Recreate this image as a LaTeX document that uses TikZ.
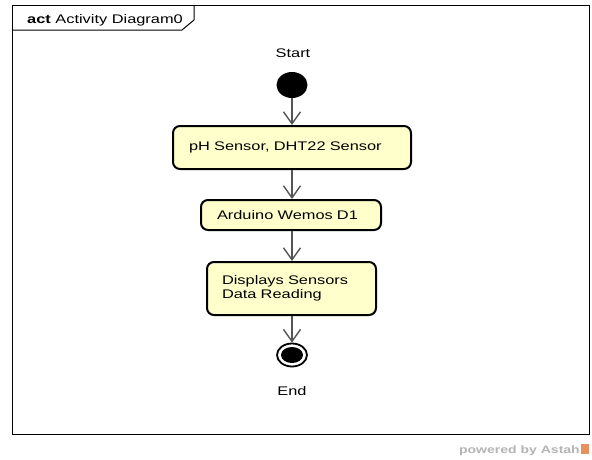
\documentclass[tikz,border=0pt]{standalone}
\usepackage{fontspec}
\setmainfont[FakeStretch=1.31]{Liberation Sans}
\usetikzlibrary{arrows.meta,shapes.geometric}
\definecolor{actfill}{HTML}{FFFFCC}
\definecolor{flowline}{HTML}{555555}
\definecolor{astahgrey}{HTML}{B4B4B4}
\definecolor{astahicon}{HTML}{E89060}
\tikzset{
  lbl/.style={font=\fontsize{12.5}{14.5}\selectfont, inner sep=0pt},
  actbox/.style={draw=black, line width=2pt, fill=actfill, rounded corners=7pt,
    font=\fontsize{12.5}{14.5}\selectfont, align=left, inner ysep=0pt, inner xsep=16pt},
  flow/.style={draw=flowline, line width=1.4pt, -{Straight Barb[length=12pt,width=17pt,line width=1.4pt]}},
  frameline/.style={draw=black, line width=1pt}
}
\begin{document}
\begin{tikzpicture}[x=1pt,y=-1pt]
\useasboundingbox (0,0) rectangle (592,459);
\fill[white] (0,0) rectangle (592,459);
% frame
\draw[frameline] (12,5) rectangle (589,434);
\draw[frameline] (12,30) -- (182,30) -- (194,20) -- (194,5);
\node[lbl, anchor=base west] (title) at (27,23) {\textbf{act} Activity Diagram0};
% start
\node[lbl] (startlbl) at (293,53) {Start};
\node[ellipse, fill=black, minimum width=31pt, minimum height=26pt, inner sep=0pt] (start) at (292,85) {};
% actions
\node[actbox, minimum width=238pt, minimum height=43pt, text width=206pt] (box1) at (292,147.5) {pH Sensor, DHT22 Sensor};
\node[actbox, minimum width=180pt, minimum height=30pt, text width=148pt] (box2) at (291,215) {Arduino Wemos D1};
\node[actbox, minimum width=169pt, minimum height=53pt, text width=139pt, inner xsep=15pt] (box3) at (291.5,288.5) {Displays Sensors\\Data Reading};
% end
\node[ellipse, draw=black, line width=1.8pt, fill=white, minimum width=30pt, minimum height=23pt, inner sep=0pt] (end) at (292,355) {};
\node[ellipse, fill=black, minimum width=22pt, minimum height=16pt, inner sep=0pt] (endin) at (292,355) {};
\node[lbl] (endlbl) at (292,391) {End};
% flows
\draw[flow] (start.south) -- (start.south |- box1.north);
\draw[flow] (start.south |- box1.south) -- (start.south |- box2.north);
\draw[flow] (start.south |- box2.south) -- (start.south |- box3.north);
\draw[flow] (start.south |- box3.south) -- (end.north);
% footer
\node[font=\fontsize{10.7}{12}\bfseries, text=astahgrey, anchor=base east, inner sep=0pt] (powered) at (580,453) {powered by Astah};
\node[fill=astahicon, minimum width=8pt, minimum height=10pt, inner sep=0pt, anchor=south west] (icon) at (580.5,454) {};
\end{tikzpicture}
\end{document}
